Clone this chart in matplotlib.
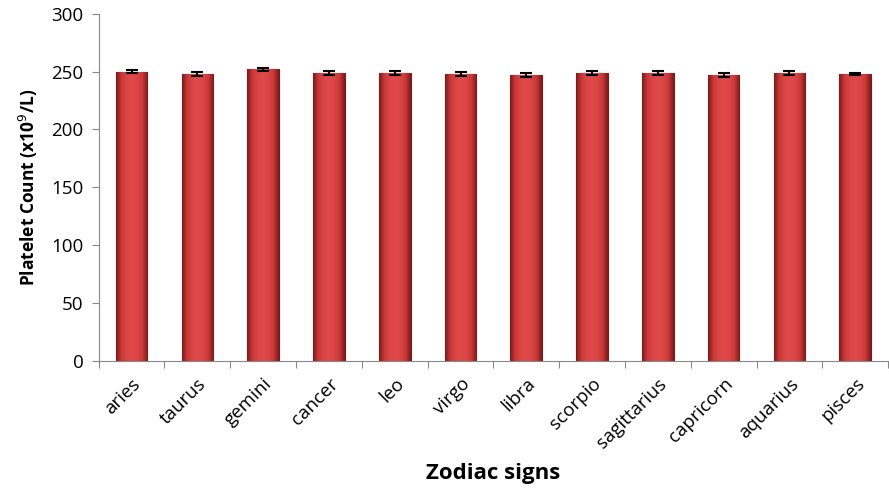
import numpy as np
import matplotlib.pyplot as plt
from matplotlib.colors import LinearSegmentedColormap

# Data
signs = ['aries', 'taurus', 'gemini', 'cancer', 'leo', 'virgo', 'libra',
         'scorpio', 'sagittarius', 'capricorn', 'aquarius', 'pisces']
platelets = [250, 248, 252, 249, 249, 248, 247, 249, 249, 247, 249, 248]
errors = [1.2, 1.5, 1.5, 1.5, 1.5, 1.5, 1.5, 1.5, 1.5, 1.5, 1.5, 1.2]
yticks = [0, 50, 100, 150, 200, 250, 300]

plt.rcParams['font.family'] = ['Open Sans', 'DejaVu Sans']

fig = plt.figure(figsize=(8.89, 4.93), dpi=100)
ax = fig.add_axes([0.111, 0.268, 0.888, 0.704])

x = np.arange(len(signs))
bars = ax.bar(x, platelets, width=0.48, color='#cf3b3b', edgecolor='#7a1a1a',
              linewidth=0.8, zorder=2)

# horizontal shading inside each bar to mimic the rounded look
cmap = LinearSegmentedColormap.from_list(
    'shade', ['#7e1a1a', '#c93838', '#dc4545', '#e04a4a', '#dc4545', '#c93838', '#7e1a1a'])
grad = np.linspace(0, 1, 64).reshape(1, -1)
for b in bars:
    x0, y0 = b.get_x(), b.get_y()
    w, h = b.get_width(), b.get_height()
    im = ax.imshow(grad, cmap=cmap, aspect='auto', extent=(x0, x0 + w, y0, y0 + h),
                   zorder=2.5)
    im.set_clip_path(b)

ax.errorbar(x, platelets, yerr=errors, fmt='none', ecolor='black', elinewidth=1.5,
            capsize=4, capthick=1.5, zorder=3)

ax.set_xlim(-0.5, len(signs) - 0.5)
ax.set_ylim(0, 300)
ax.set_yticks(yticks)
ax.set_xticks(np.arange(len(signs) + 1) - 0.5, minor=False)
ax.set_xticklabels([])
ax.set_xticks(x, minor=True)
ax.set_xticklabels(signs, minor=True, rotation=45, ha='right', rotation_mode='anchor',
                   fontsize=13.5)
ax.tick_params(axis='x', which='minor', length=0, pad=10)
ax.tick_params(axis='x', which='major', length=5, color='#888888', direction='out')
ax.tick_params(axis='y', length=5, color='#888888', labelsize=13.5, pad=6)

for s in ['top', 'right']:
    ax.spines[s].set_visible(False)
ax.spines['left'].set_color('#888888')
ax.spines['bottom'].set_color('#888888')

ax.set_ylabel('Platelet Count (x10$^9$/L)', fontsize=12.5, fontweight='bold', labelpad=8)
ax.set_xlabel('Zodiac signs', fontsize=16, fontweight='bold', labelpad=8)

fig.savefig('out.png', dpi=100, facecolor='white')
